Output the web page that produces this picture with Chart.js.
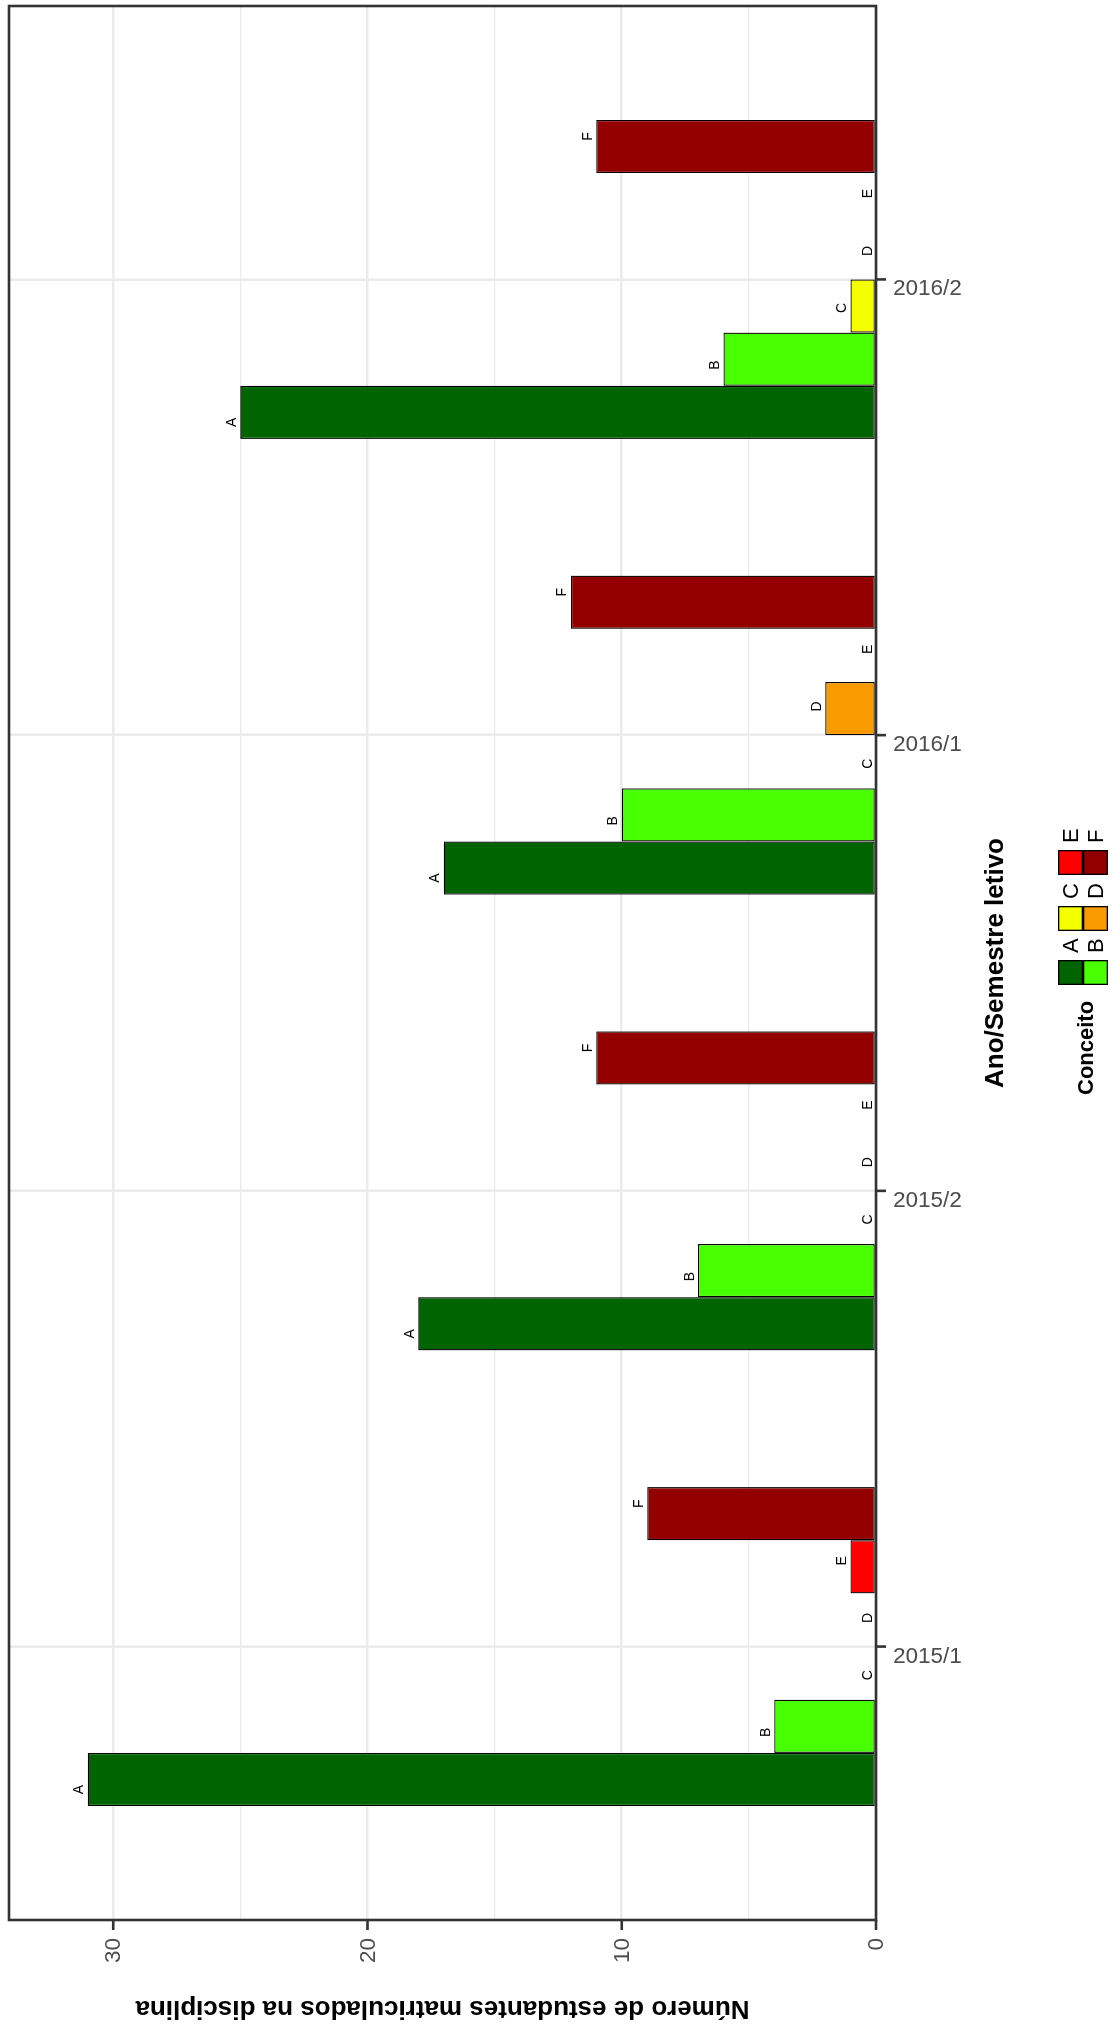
<!DOCTYPE html>
<html><head><meta charset="utf-8">
<script src="https://cdn.jsdelivr.net/npm/chart.js@4.4.1/dist/chart.umd.min.js"></script>
<style>
html,body{margin:0;padding:0;overflow:hidden;background:#fff;width:1112px;height:2033px}
#wrap{position:absolute;left:0;top:0;width:2033px;height:1112px;transform-origin:0 0;transform:translateY(2033px) rotate(-90deg)}
canvas{display:block}
</style></head><body>
<div id="wrap"><canvas id="c" width="2033" height="1112" style="width:2033px;height:1112px"></canvas></div>
<script>
// ---- data ----
const semesters = ['2015/1', '2015/2', '2016/1', '2016/2'];
const concepts = ['A', 'B', 'C', 'D', 'E', 'F'];
const countsA = [31, 18, 17, 25];
const countsB = [4, 7, 10, 6];
const countsC = [0, 0, 0, 1];
const countsD = [0, 0, 2, 0];
const countsE = [1, 0, 0, 0];
const countsF = [9, 11, 12, 11];
const valueTicks = [0, 10, 20, 30];
const valueMax = 34.1;
const xTitle = 'Ano/Semestre letivo';
const yTitle = 'Número de estudantes matriculados na disciplina';
const legendTitle = 'Conceito';
const colors = ['#006400', '#48ff00', '#f4ff00', '#f89a00', '#ff0000', '#930000'];

const series = [countsA, countsB, countsC, countsD, countsE, countsF];
const FONT = '"Liberation Sans", Arial, Helvetica, sans-serif';

const datasets = concepts.map((c, k) => ({
  label: c,
  data: series[k].map((v, i) => ({ x: i, y: v })),
  backgroundColor: colors[k],
  borderColor: '#000000',
  borderWidth: 1.3,
  borderSkipped: false,
  categoryPercentage: 0.7,
  barPercentage: 1.0
}));

const drawPlugin = {
  id: 'ggdraw',
  afterDatasetsDraw(chart) {
    const ctx = chart.ctx;
    const a = chart.chartArea;
    const xs = chart.scales.x, ys = chart.scales.y;
    // bar labels (text dodged slightly wider than bars)
    ctx.save();
    ctx.fillStyle = '#000';
    ctx.font = '14px ' + FONT;
    ctx.textAlign = 'center';
    ctx.textBaseline = 'alphabetic';
    concepts.forEach((c, k) => {
      const meta = chart.getDatasetMeta(k);
      meta.data.forEach((el, i) => {
        const g = xs.getPixelForValue(i);
        ctx.fillText(c, g + (el.x - g) * 1.075, el.y - 4.5);
      });
    });
    ctx.restore();
    // panel border
    ctx.save();
    ctx.strokeStyle = '#333333';
    ctx.lineWidth = 2.6;
    ctx.strokeRect(a.left, a.top, a.right - a.left, a.bottom - a.top);
    ctx.restore();
    // ticks
    ctx.save();
    ctx.strokeStyle = '#333333';
    ctx.lineWidth = 2.6;
    semesters.forEach((s, i) => {
      const px = xs.getPixelForValue(i);
      ctx.beginPath(); ctx.moveTo(px, a.bottom); ctx.lineTo(px, a.bottom + 10); ctx.stroke();
    });
    valueTicks.forEach(v => {
      const py = ys.getPixelForValue(v);
      ctx.beginPath(); ctx.moveTo(a.left, py); ctx.lineTo(a.left - 10, py); ctx.stroke();
    });
    ctx.restore();
    // tick labels
    ctx.save();
    ctx.fillStyle = '#4d4d4d';
    ctx.font = '22.5px ' + FONT;
    ctx.textAlign = 'right';
    ctx.textBaseline = 'middle';
    valueTicks.forEach(v => {
      ctx.fillText(String(v), a.left - 18, ys.getPixelForValue(v) + 1);
    });
    semesters.forEach((s, i) => {
      const px = xs.getPixelForValue(i);
      ctx.save();
      ctx.translate(px, a.bottom + 17);
      ctx.rotate(Math.PI / 2);
      ctx.textAlign = 'left';
      ctx.textBaseline = 'alphabetic';
      ctx.fillText(s, 0, 16);
      ctx.restore();
    });
    ctx.restore();
    // axis titles
    ctx.save();
    ctx.fillStyle = '#000';
    ctx.font = 'bold 26px ' + FONT;
    ctx.textAlign = 'center';
    ctx.textBaseline = 'alphabetic';
    ctx.fillText(xTitle, (a.left + a.right) / 2, 1003);
    ctx.save();
    ctx.translate(32, (a.top + a.bottom) / 2);
    ctx.rotate(-Math.PI / 2);
    ctx.fillText(yTitle, 0, 0);
    ctx.restore();
    ctx.restore();
    // legend
    ctx.save();
    ctx.fillStyle = '#000';
    ctx.font = 'bold 22px ' + FONT;
    ctx.textAlign = 'left';
    ctx.textBaseline = 'alphabetic';
    ctx.fillText(legendTitle, 938, 1093);
    const keyX = [1048, 1048, 1102, 1102, 1158, 1158];
    const keyY = [1058, 1083, 1058, 1083, 1058, 1083];
    ctx.font = '22px ' + FONT;
    ctx.textBaseline = 'middle';
    concepts.forEach((c, k) => {
      ctx.fillStyle = colors[k];
      ctx.fillRect(keyX[k], keyY[k], 25, 25);
      ctx.strokeStyle = '#000';
      ctx.lineWidth = 1.3;
      ctx.strokeRect(keyX[k] + 0.65, keyY[k] + 0.65, 23.7, 23.7);
      ctx.fillStyle = '#000';
      ctx.fillText(c, keyX[k] + 32, keyY[k] + 13.5);
    });
    ctx.restore();
  }
};

new Chart(document.getElementById('c'), {
  type: 'bar',
  data: { datasets },
  options: {
    responsive: false,
    animation: false,
    devicePixelRatio: 1,
    layout: { padding: { left: 113, right: 6, top: 9, bottom: 236 } },
    plugins: { legend: { display: false }, tooltip: { enabled: false } },
    scales: {
      x: {
        type: 'linear',
        min: -0.6,
        max: 3.6,
        offset: false,
        afterBuildTicks: s => { s.ticks = semesters.map((_, i) => ({ value: i })); },
        ticks: { display: false },
        grid: { color: '#ebebeb', lineWidth: 2.6, drawTicks: false, offset: false },
        border: { display: false }
      },
      y: {
        type: 'linear',
        min: 0,
        max: valueMax,
        ticks: { display: false, stepSize: 5, includeBounds: false },
        grid: {
          color: '#ebebeb',
          lineWidth: c => (c.tick && c.tick.value % 10 === 0) ? 2.6 : 1.3,
          drawTicks: false
        },
        border: { display: false }
      }
    }
  },
  plugins: [drawPlugin]
});
</script>
</body></html>
